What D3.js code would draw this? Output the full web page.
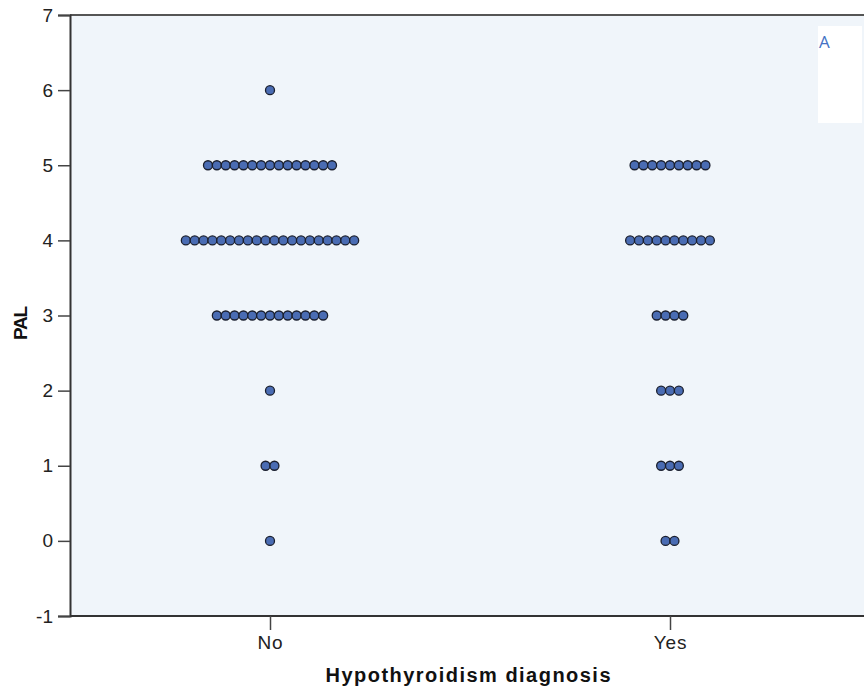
<!DOCTYPE html>
<html>
<head>
<meta charset="utf-8">
<script src="https://cdn.jsdelivr.net/npm/d3@7"></script>
<style>
  body { margin: 0; background: #fff; }
  text { font-family: "Liberation Sans", Arial, sans-serif; }
</style>
</head>
<body>
<div id="chart"></div>
<script>
// data: number of cases at each PAL value, per group
var categories = ["No", "Yes"];
var palValues = [0, 1, 2, 3, 4, 5, 6];
var noCounts  = [1, 2, 1, 13, 20, 15, 1];
var yesCounts = [2, 3, 3, 4, 10, 9, 0];
var yTicks = [-1, 0, 1, 2, 3, 4, 5, 6, 7];

var w = 864, h = 687;
var plotLeft = 70, plotTop = 15, plotW = 800, plotBottom = 616;
var dotGap = 8.86, r = 4.5;

var svg = d3.select("#chart").append("svg")
    .attr("width", w)
    .attr("height", h);

var x = d3.scalePoint()
    .domain(categories)
    .range([plotLeft, plotLeft + plotW])
    .padding(0.5);

var y = d3.scaleLinear()
    .domain([-1, 7])
    .range([plotBottom, plotTop]);

// plot background
svg.append("rect")
    .attr("x", plotLeft).attr("y", plotTop)
    .attr("width", plotW).attr("height", plotBottom - plotTop)
    .attr("fill", "#f0f5fa");

// top frame line
svg.append("line")
    .attr("x1", plotLeft).attr("x2", w)
    .attr("y1", plotTop).attr("y2", plotTop)
    .attr("stroke", "#555").attr("stroke-width", 2);

// build dot list
var dots = [];
[noCounts, yesCounts].forEach(function(counts, ci) {
  counts.forEach(function(n, vi) {
    for (var i = 0; i < n; i++) {
      dots.push({ cat: categories[ci], value: palValues[vi], off: (i - (n - 1) / 2) * dotGap });
    }
  });
});

svg.selectAll("circle.dot")
    .data(dots)
    .enter().append("circle")
      .attr("class", "dot")
      .attr("cx", function(d) { return x(d.cat) + d.off; })
      .attr("cy", function(d) { return y(d.value); })
      .attr("r", r)
      .attr("fill", "#4a6cb3")
      .attr("stroke", "#1a1f2e")
      .attr("stroke-width", 1.3);

// y axis
var yAxis = svg.append("g")
    .attr("transform", "translate(" + plotLeft + ",0)")
    .call(d3.axisLeft(y).tickValues(yTicks).tickSize(12).tickPadding(5).tickFormat(function(d) { return String(d); }));
yAxis.select(".domain").attr("stroke", "#333").attr("stroke-width", 2);
yAxis.selectAll(".tick line").attr("stroke", "#444").attr("stroke-width", 1.5);
yAxis.selectAll(".tick text")
    .attr("font-size", 19)
    .attr("fill", "#222")
    .style("font-family", "Liberation Sans, Arial, sans-serif");

// x axis
var xAxis = svg.append("g")
    .attr("transform", "translate(0," + plotBottom + ")")
    .call(d3.axisBottom(x).tickSize(14).tickPadding(6).tickSizeOuter(0));
xAxis.select(".domain").attr("stroke", "#333").attr("stroke-width", 2)
    .attr("d", "M" + plotLeft + ",0H" + w);
xAxis.selectAll(".tick line").attr("stroke", "#444").attr("stroke-width", 1.5);
xAxis.selectAll(".tick text")
    .attr("font-size", 19)
    .attr("letter-spacing", 0.8)
    .attr("fill", "#222")
    .style("font-family", "Liberation Sans, Arial, sans-serif");

// axis titles
svg.append("text")
    .attr("x", 468).attr("y", 682)
    .attr("text-anchor", "middle")
    .attr("font-size", 20)
    .attr("font-weight", "bold")
    .attr("textLength", 285)
    .attr("fill", "#111")
    .text("Hypothyroidism diagnosis");

svg.append("text")
    .attr("transform", "translate(27,323) rotate(-90)")
    .attr("text-anchor", "middle")
    .attr("font-size", 19)
    .attr("font-weight", "bold")
    .attr("textLength", 34)
    .attr("fill", "#111")
    .text("PAL");

// panel label box
svg.append("rect")
    .attr("x", 818).attr("y", 26)
    .attr("width", 44).attr("height", 97)
    .attr("fill", "#fff");
svg.append("text")
    .attr("x", 819).attr("y", 48)
    .attr("font-size", 17)
    .attr("fill", "#4472c4")
    .style("font-family", "Open Sans, sans-serif")
    .text("A");
</script>
</body>
</html>
